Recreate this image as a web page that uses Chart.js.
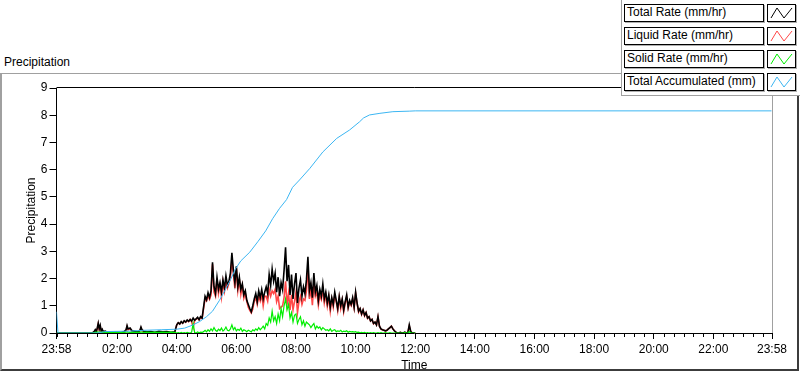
<!DOCTYPE html>
<html><head><meta charset="utf-8">
<script src="https://cdn.jsdelivr.net/npm/chart.js@4"></script>
<style>
html,body{margin:0;padding:0;background:#fff;width:800px;height:373px;overflow:hidden;font-family:"Liberation Sans",Arial,sans-serif;}
*{box-sizing:border-box;}
#frame{position:absolute;left:0;top:73px;width:799px;height:298px;border-top:1px solid #a0a0a0;border-left:2px solid #a0a0a0;border-right:2px solid #3c3c3c;border-bottom:2px solid #3c3c3c;}
#graphLabel{position:absolute;left:4px;top:55px;font-size:12px;line-height:14px;color:#000;}
#c{position:absolute;left:0;top:0;}
#legend{position:absolute;left:621px;top:0;width:179px;height:96px;background:#fff;border-left:1px solid #a0a0a0;border-bottom:1px solid #a0a0a0;}
.lab{position:absolute;left:2px;width:140px;height:18px;border:1px solid #000;box-shadow:1px 1px 0 #b0b0b0;background:#fff;font-size:12px;line-height:15px;padding-left:2px;color:#000;white-space:nowrap;}
.ico{position:absolute;left:145px;width:29px;height:18px;border:1px solid #000;box-shadow:1px 1px 0 #b0b0b0;background:#fff;}
.ico svg{position:absolute;left:0;top:0;}
</style></head>
<body>
<div id="frame"></div>
<div id="graphLabel">Precipitation</div>
<canvas id="c" width="800" height="373"></canvas>
<div id="legend"></div>
<script>
// ---------- DATA ----------
const seriesNames = ["Total Rate (mm/hr)", "Liquid Rate (mm/hr)", "Solid Rate (mm/hr)", "Total Accumulated (mm)"];
const seriesColors = ["#000000", "#ff4848", "#00ee00", "#3cb6f2"];
const xTickLabels = ["23:58","02:00","04:00","06:00","08:00","10:00","12:00","14:00","16:00","18:00","20:00","22:00","23:58"];
const yTickValues = [0,1,2,3,4,5,6,7,8,9];

// quiet period (before 04:00)
const quietTimes = ["23:58","01:10","01:14","01:16","01:18","01:20","01:22","01:24","01:26","01:28","01:30","01:32","01:36","01:40","01:46","01:52","02:00","02:08","02:14","02:18","02:20","02:22","02:26","02:30","02:36","02:42","02:46","02:48","02:50","02:54","03:00","03:08","03:16","03:24","03:32","03:40","03:48","03:56"];
const quietTotal  = [0,0,0.06,0.12,0.05,0.18,0.36,0.15,0.28,0.08,0.14,0.05,0.07,0.03,0.04,0.02,0.03,0.02,0.05,0.12,0.27,0.15,0.18,0.08,0.06,0.04,0.10,0.22,0.12,0.06,0.04,0.05,0.03,0.06,0.04,0.05,0.03,0.04];
const quietLiquid = [0,0,0.04,0.09,0.03,0.14,0.33,0.13,0.24,0.06,0.11,0.03,0.04,0.01,0.01,0,0.01,0,0.03,0.09,0.23,0.12,0.16,0.05,0.04,0.01,0.08,0.18,0.09,0.04,0.01,0.03,0,0.04,0.01,0.03,0,0.02];
const quietSolid  = [0,0,0.02,0.03,0.02,0.04,0.03,0.02,0.04,0.02,0.03,0.02,0.03,0.02,0.03,0.02,0.02,0.02,0.02,0.03,0.04,0.03,0.02,0.03,0.02,0.03,0.02,0.04,0.03,0.02,0.03,0.02,0.03,0.02,0.03,0.02,0.03,0.02];

// storm period: samples every 3 minutes from 04:00
const stormStart = "04:00";
const stormStepMin = 3;
const stormTotal = [
 0.30,0.38,0.33,0.42,0.36,0.45,0.40,0.48,0.43,0.50,0.44,0.55,0.47,0.52,0.58,0.49,0.60,0.55,
 0.95,
 1.35,1.22,1.48,1.30,1.55,
 2.60,
 1.70,1.45,2.05,1.60,1.85,1.50,1.95,1.65,2.10,1.75,1.90,2.20,
 2.95,
 2.30,1.85,2.45,1.70,2.05,1.60,1.80,1.40,1.55,
 1.20,1.05,0.90,0.78,1.00,
 1.25,1.45,1.15,1.55,1.30,1.60,1.25,1.50,1.70,1.45,
 2.15,1.75,2.35,1.90,2.20,
 1.50,2.05,1.35,1.85,1.60,2.30,
 3.15,
 1.90,2.50,1.40,2.15,1.25,1.80,2.20,1.10,1.65,1.95,1.35,
 1.70,1.45,1.95,
 2.80,
 1.55,1.85,1.30,2.20,1.50,1.75,1.20,1.60,1.35,1.80,1.25,1.50,
 1.10,1.40,0.95,1.30,1.05,1.50,1.20,0.90,1.35,1.00,1.25,0.85,1.15,1.40,0.95,1.20,1.05,1.30,0.95,
 1.50,
 1.10,0.80,0.90,0.70,0.85,0.65,0.75,
 0.55,0.60,0.45,0.50,0.35,0.40,0.30,
 0.60,
 0.25,0.15,0.12,0.10,0.08,0.10,0.15,0.20,0.25,0.15,
 0.08,0.03,0.00,0.00,0.02,0.00,0.00,0.03,0.00,0.00,
 0.30,
 0.05,0.00,0.00];
const stormLiquid = [
 0.30,0.37,0.33,0.40,0.36,0.44,0.40,0.46,0.42,0.50,0.41,0.20,0.45,0.52,0.54,0.48,0.57,0.53,
 0.90,
 1.25,1.18,1.36,1.24,1.40,
 2.52,
 1.50,1.35,1.99,1.46,1.76,1.32,1.88,1.53,1.88,1.65,1.82,2.05,
 2.65,
 2.18,1.65,2.37,1.56,1.95,1.42,1.74,1.28,1.46,
 1.15,0.95,0.83,0.74,0.88,
 1.17,1.30,1.05,1.35,1.18,1.42,1.00,1.35,1.35,1.17,
 1.60,1.35,1.55,1.45,1.60,
 1.15,1.35,0.90,0.95,1.00,1.30,
 1.90,
 1.05,1.45,0.85,1.40,0.85,1.15,1.50,0.75,1.15,1.35,1.05,
 1.25,1.20,1.55,
 2.45,
 1.25,1.65,1.02,1.85,1.35,1.50,1.02,1.38,1.23,1.60,1.10,1.40,
 0.98,1.32,0.80,1.24,0.95,1.38,1.15,0.82,1.29,0.90,1.21,0.78,1.10,1.32,0.92,1.14,1.01,1.25,0.92,
 1.45,
 1.08,0.77,0.89,0.68,0.84,0.63,0.75,
 0.54,0.60,0.44,0.50,0.34,0.40,0.30,
 0.59,
 0.25,0.14,0.12,0.10,0.07,0.10,0.15,0.19,0.25,0.15,
 0.08,0.03,0.00,0.00,0.02,0.00,0.00,0.02,0.00,0.00,
 0.25,
 0.05,0.00,0.00];
const stormSolid = [
 0.00,0.01,0.00,0.02,0.00,0.01,0.00,0.02,0.01,0.00,0.03,0.35,0.02,0.00,0.04,0.01,0.03,0.02,
 0.05,
 0.10,0.04,0.12,0.06,0.15,
 0.08,
 0.20,0.10,0.06,0.14,0.09,0.18,0.07,0.12,0.22,0.10,0.08,0.15,
 0.30,
 0.12,0.20,0.08,0.14,0.10,0.18,0.06,0.12,0.09,
 0.05,0.10,0.07,0.04,0.12,
 0.08,0.15,0.10,0.20,0.12,0.18,0.25,0.15,0.35,0.28,
 0.55,0.40,0.80,0.45,0.60,
 0.35,0.70,0.45,0.90,0.60,1.00,
 1.25,
 0.85,1.05,0.55,0.75,0.40,0.65,0.70,0.35,0.50,0.60,0.30,
 0.45,0.25,0.40,
 0.35,
 0.30,0.20,0.28,0.35,0.15,0.25,0.18,0.22,0.12,0.20,0.15,0.10,
 0.12,0.08,0.15,0.06,0.10,0.12,0.05,0.08,0.06,0.10,0.04,0.07,0.05,0.08,0.03,0.06,0.04,0.05,0.03,
 0.05,
 0.02,0.03,0.01,0.02,0.01,0.02,0.00,
 0.01,0.00,0.01,0.00,0.01,0.00,0.00,
 0.01,
 0.00,0.01,0.00,0.00,0.01,0.00,0.00,0.01,0.00,0.00,
 0.00,0.00,0.00,0.00,0.00,0.00,0.00,0.01,0.00,0.00,
 0.05,
 0.00,0.00,0.00];
const rateEndTime = "12:00";

// accumulated precipitation
const accTimes  = ["23:58","00:01","01:20","01:35","02:25","02:55","03:30","04:00","04:16","04:32","04:46","05:00","05:12","05:26","05:38","05:48","05:58","06:09","06:27","06:43","06:59","07:13","07:27","07:41","07:53","08:07","08:28","08:54","09:22","09:48","10:08","10:16","10:28","10:49","11:15","11:49","12:00","23:57"];
const accValues = [0.78,0,0,0.05,0.07,0.10,0.12,0.14,0.18,0.29,0.42,0.60,0.80,1.20,1.60,1.95,2.35,2.65,2.97,3.35,3.75,4.20,4.58,4.90,5.35,5.62,6.05,6.65,7.15,7.46,7.76,7.90,8.01,8.07,8.13,8.15,8.16,8.16];

// ---------- helpers ----------
function toMin(s){ const p=s.split(':').map(Number); let v=p[0]*60+p[1]-(23*60+58); if(v<0) v+=1440; return v; }
const xTickValues = xTickLabels.map((s,i)=> i===xTickLabels.length-1 ? 1440 : toMin(s));
function buildRate(qv, sv){
  const pts = quietTimes.map((t,i)=>({x:toMin(t), y:qv[i]}));
  const s0 = toMin(stormStart);
  sv.forEach((v,k)=>pts.push({x:s0+k*stormStepMin, y:v}));
  pts.push({x:toMin(rateEndTime), y:0});
  return pts;
}
const accData = accTimes.map((t,i)=>({x:toMin(t), y:accValues[i]}));

// ---------- legend (HTML) ----------
const legend = document.getElementById('legend');
const rowTops = [4,27,50,73];
seriesNames.forEach((n,i)=>{
  const l=document.createElement('div'); l.className='lab'; l.style.top=rowTops[i]+'px'; l.textContent=n; legend.appendChild(l);
  const ic=document.createElement('div'); ic.className='ico'; ic.style.top=rowTops[i]+'px';
  ic.innerHTML='<svg width="27" height="16"><polyline points="3,13 9,3 16,13 24,3" fill="none" stroke="'+seriesColors[i]+'" stroke-width="1"/></svg>';
  legend.appendChild(ic);
});

// ---------- chart ----------
Chart.defaults.font.family = '"Liberation Sans", Arial, sans-serif';
Chart.defaults.font.size = 12;
Chart.defaults.color = '#000';

const framePlugin = {
  id:'frameTicks',
  afterDraw(chart){
    const {ctx, chartArea:a, scales:{x}} = chart;
    ctx.save();
    ctx.lineWidth = 1;
    ctx.strokeStyle = '#000';
    ctx.beginPath(); ctx.moveTo(a.left, 87.5); ctx.lineTo(a.right, 87.5); ctx.stroke();
    ctx.strokeStyle = '#a0a0a0';
    ctx.beginPath(); ctx.moveTo(772.5, 88); ctx.lineTo(772.5, a.bottom); ctx.stroke();
    // minor x ticks every 20 min
    ctx.strokeStyle = '#000';
    for(let t=2; t<1440; t+=20){
      if(xTickValues.includes(t)) continue;
      const px = Math.round(x.getPixelForValue(t)) + 0.5;
      ctx.beginPath(); ctx.moveTo(px, 333); ctx.lineTo(px, 337); ctx.stroke();
    }
    ctx.restore();
  }
};

const ds = (i, data, order, w)=>({label:seriesNames[i], data, borderColor:seriesColors[i], backgroundColor:seriesColors[i], borderWidth:w, pointRadius:0, tension:0, fill:false, order});

new Chart(document.getElementById('c'), {
  type:'line',
  data:{datasets:[
    ds(0, buildRate(quietTotal, stormTotal), 3, 1.6),
    ds(1, buildRate(quietLiquid, stormLiquid), 4, 1.6),
    ds(2, buildRate(quietSolid, stormSolid), 2, 1.2),
    ds(3, accData, 1, 1)
  ]},
  options:{
    responsive:false, animation:false, devicePixelRatio:1,
    layout:{padding:{left:0, top:88, right:28, bottom:0}},
    plugins:{legend:{display:false}, tooltip:{enabled:false}},
    scales:{
      x:{type:'linear', min:0, max:1440, z:1,
        afterBuildTicks(s){ s.ticks = xTickValues.map(v=>({value:v})); },
        afterFit(s){ s.height = 40; },
        ticks:{autoSkip:false, maxRotation:0, minRotation:0, padding:3, color:'#000', font:{size:12},
          callback:(v,i)=>xTickLabels[i]},
        grid:{display:true, drawOnChartArea:false, drawTicks:true, tickLength:6, color:'#000'},
        border:{display:true, color:'#000', width:1},
        title:{display:true, text:'Time', color:'#000', font:{size:12}, padding:{top:0, bottom:0}}
      },
      y:{min:0, max:9, z:1,
        afterBuildTicks(s){ s.ticks = yTickValues.map(v=>({value:v})); },
        afterFit(s){ s.width = 56.5; },
        ticks:{padding:2, color:'#000', font:{size:12}},
        grid:{drawOnChartArea:false, drawTicks:true, tickLength:7, color:'#000'},
        border:{display:true, color:'#000', width:1},
        title:{display:true, text:'Precipitation', color:'#000', font:{size:12}, padding:{top:24, bottom:0}}
      }
    }
  },
  plugins:[framePlugin]
});
</script>
</body></html>
